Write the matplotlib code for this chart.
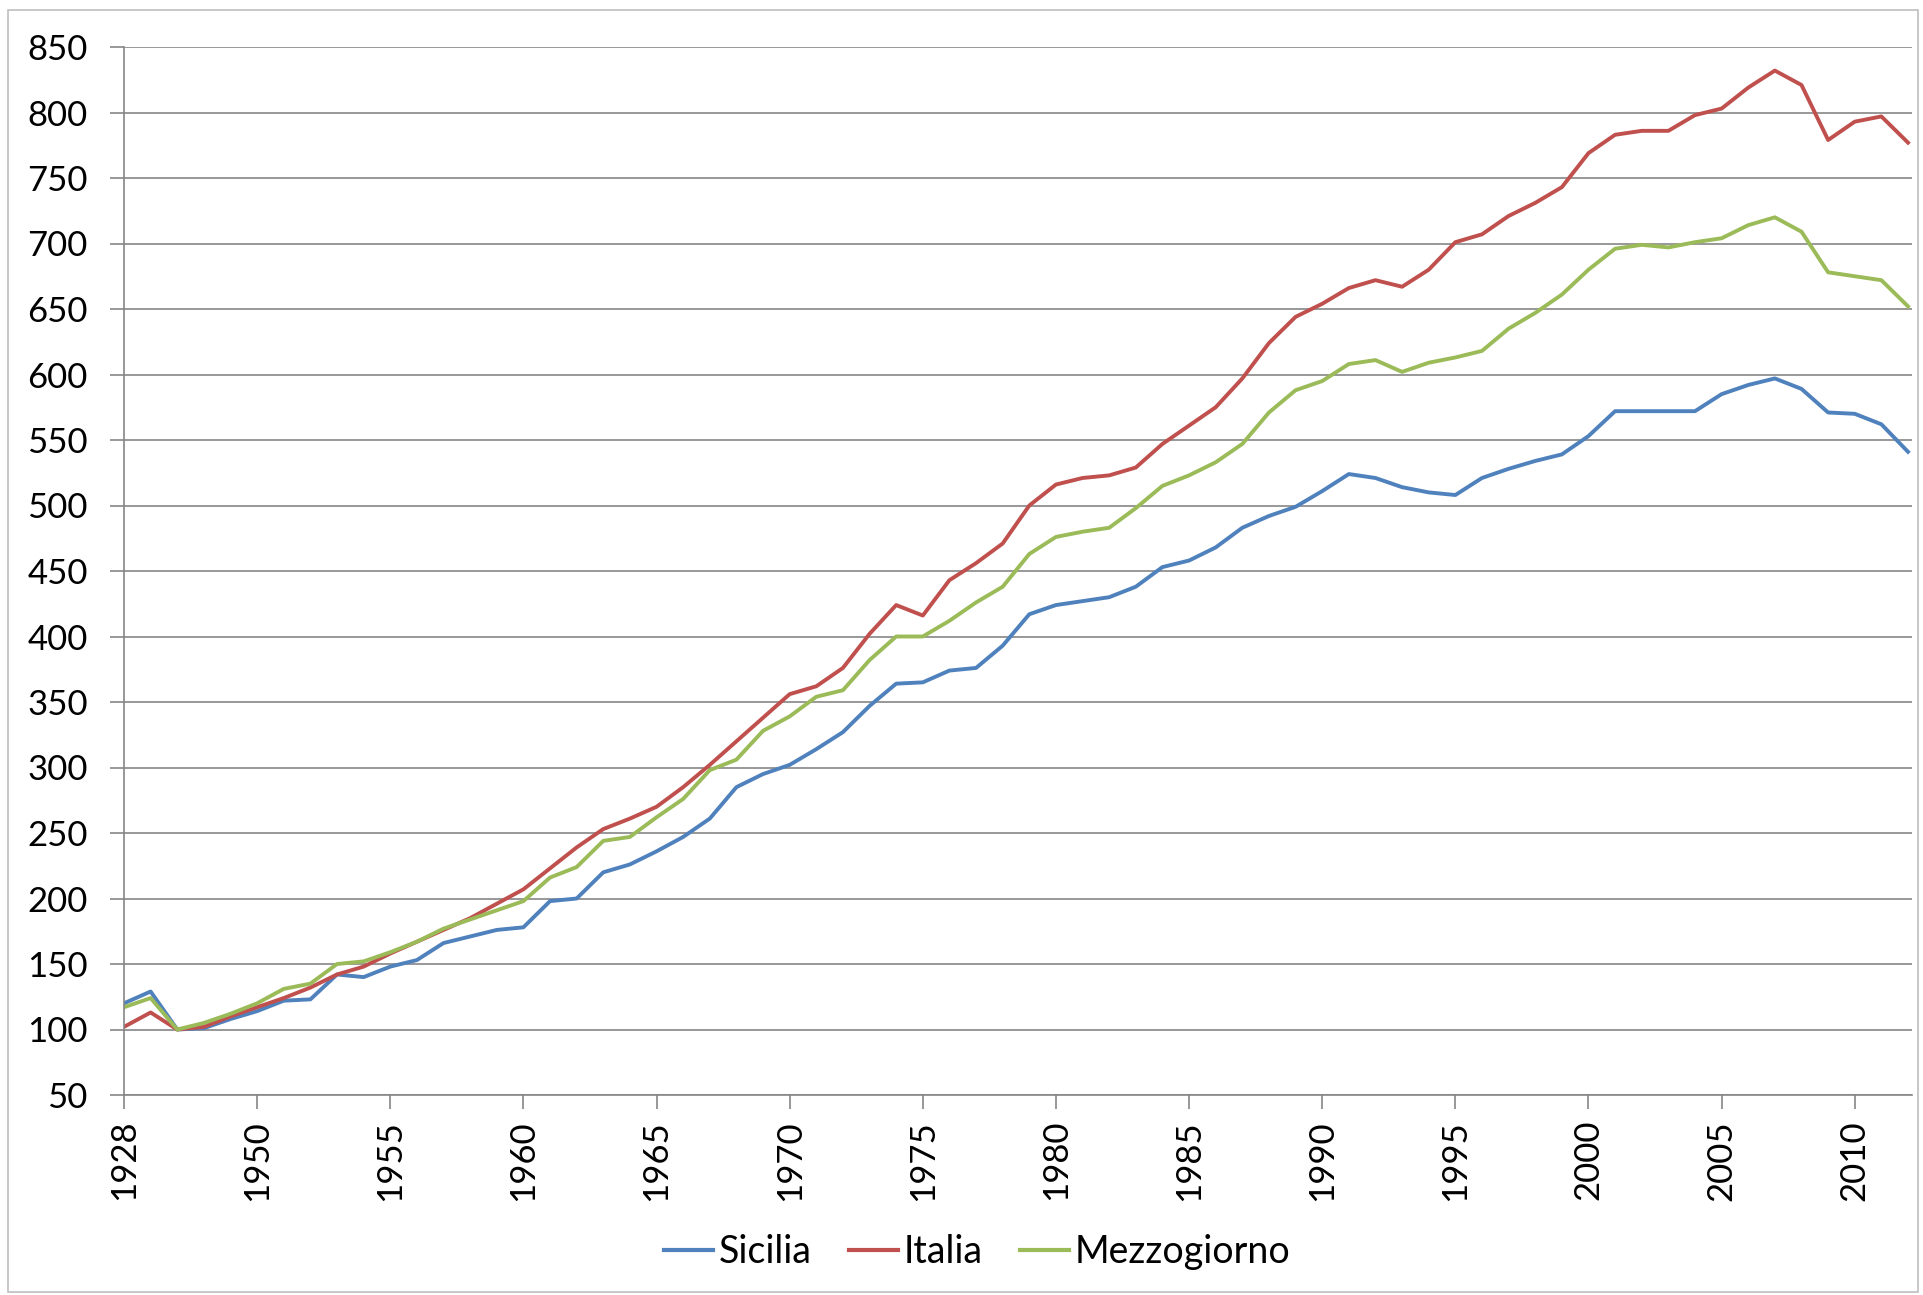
import matplotlib
matplotlib.use("Agg")
import matplotlib.pyplot as plt
from matplotlib.patches import Rectangle

years = [1928, 1938, 1947, 1948, 1949] + list(range(1950, 2013))

sicilia = [120, 129, 100, 101, 108, 114, 122, 123, 142, 140, 148, 153, 166, 171, 176, 178,
           198, 200, 220, 226, 236, 247, 261, 285, 295, 302, 314, 327, 347, 364, 365, 374,
           376, 393, 417, 424, 427, 430, 438, 453, 458, 468, 483, 492, 499, 511, 524, 521,
           514, 510, 508, 521, 528, 534, 539, 553, 572, 572, 572, 572, 585, 592, 597, 589,
           571, 570, 562, 541]
italia = [102, 113, 100, 102, 110, 117, 124, 132, 142, 148, 158, 167, 176, 185, 196, 207,
          223, 239, 253, 261, 270, 285, 302, 320, 338, 356, 362, 376, 402, 424, 416, 443,
          456, 471, 500, 516, 521, 523, 529, 547, 561, 575, 597, 624, 644, 654, 666, 672,
          667, 680, 701, 707, 721, 731, 743, 769, 783, 786, 786, 798, 803, 819, 832, 821,
          779, 793, 797, 777]
mezzogiorno = [117, 124, 100, 105, 112, 120, 131, 135, 150, 152, 159, 167, 177, 184, 191, 198,
               216, 224, 244, 247, 262, 276, 298, 306, 328, 339, 354, 359, 382, 400, 400, 412,
               426, 438, 463, 476, 480, 483, 498, 515, 523, 533, 547, 571, 588, 595, 608, 611,
               602, 609, 613, 618, 635, 647, 661, 680, 696, 699, 697, 701, 704, 714, 720, 709,
               678, 675, 672, 652]

series = [("Sicilia", sicilia, "#4F81BD"),
          ("Italia", italia, "#C0504D"),
          ("Mezzogiorno", mezzogiorno, "#9BBB59")]

plt.rcParams['font.family'] = ['Lato', 'DejaVu Sans']

W, H = 1924, 1295
fig = plt.figure(figsize=(W / 100, H / 100), dpi=100)
fig.patch.set_facecolor("white")

left, right = 124 / W, 1912 / W
bottom, top = (H - 1095) / H, (H - 47) / H
ax = fig.add_axes([left, bottom, right - left, top - bottom])

x = list(range(len(years)))
for name, vals, col in series:
    ax.plot(x, vals, color=col, lw=2.8, label=name, solid_joinstyle="round")

gray = "#868686"
ax.set_xlim(0, len(years) - 1 + 0.15)
ax.set_ylim(50, 850)
ax.set_yticks(range(50, 851, 50))
ax.yaxis.grid(True, color=gray, lw=1.2)
ax.set_axisbelow(True)
tick_idx = list(range(0, len(years), 5))
ax.set_xticks(tick_idx)
ax.set_xticklabels([str(years[i]) for i in tick_idx], rotation=90)

for s in ["top", "right"]:
    ax.spines[s].set_visible(False)
for s in ["left", "bottom"]:
    ax.spines[s].set_color(gray)
    ax.spines[s].set_linewidth(1.2)

ax.tick_params(axis="y", length=10, width=1.2, color=gray, labelsize=25, pad=16, labelcolor="black")
ax.tick_params(axis="x", length=10, width=1.2, color=gray, labelsize=25, pad=8, labelcolor="black")

leg = fig.legend(loc="center", bbox_to_anchor=(977 / W, (H - 1252) / H), ncol=3, frameon=False,
                 fontsize=27, handlelength=1.3, handletextpad=0.15, columnspacing=1.0)
for line in leg.get_lines():
    line.set_linewidth(3)

fig.patches.append(Rectangle((8 / W, (H - 1292) / H), (1918 - 8) / W, (1292 - 10) / H,
                             transform=fig.transFigure, fill=False, edgecolor="#BFBFBF", lw=1.2))

fig.savefig("out.png", dpi=100, facecolor="white")
